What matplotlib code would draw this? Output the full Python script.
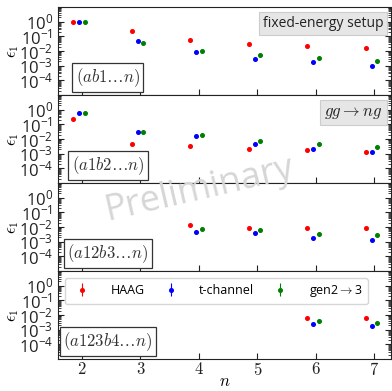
import numpy as np
import matplotlib.pyplot as plt
from matplotlib.ticker import LogLocator, NullFormatter, FixedLocator, FuncFormatter

plt.rcParams['mathtext.fontset'] = 'cm'
plt.rcParams['font.family'] = ['Open Sans', 'DejaVu Sans']

nan = np.nan
n_vals = [2, 3, 4, 5, 6, 7]
panel_labels = [r'$(ab1\ldots n)$', r'$(a1b2\ldots n)$', r'$(a12b3\ldots n)$', r'$(a123b4\ldots n)$']

# epsilon_1 per panel
haag = [
    [0.95, 0.25, 0.056, 0.032, 0.022, 0.017],
    [0.23, 0.0046, 0.0036, 0.0022, 0.0017, 0.0014],
    [nan, nan, 0.0137, 0.0089, 0.0089, 0.0087],
    [nan, nan, nan, nan, 0.0060, 0.0060],
]
tchannel = [
    [0.95, 0.046, 0.0085, 0.0030, 0.0018, 0.0010],
    [0.59, 0.032, 0.016, 0.0048, 0.0022, 0.0013],
    [nan, nan, 0.0048, 0.0040, 0.0019, 0.0013],
    [nan, nan, nan, nan, 0.0026, 0.0017],
]
gen23 = [
    [0.95, 0.035, 0.010, 0.0054, 0.0035, 0.0021],
    [0.59, 0.031, 0.020, 0.0078, 0.0046, 0.0030],
    [nan, nan, 0.0072, 0.0059, 0.0035, 0.0027],
    [nan, nan, nan, nan, 0.0041, 0.0028],
]
rel_err = 0.08

series = [('HAAG', haag, 'red', -0.15),
          ('t-channel', tchannel, 'blue', -0.05),
          (r'gen2$\rightarrow$3', gen23, 'green', 0.05)]

fig, axes = plt.subplots(4, 1, figsize=(3.92, 3.91), dpi=100, sharex=True)
fig.subplots_adjust(left=0.148, right=0.997, top=0.982, bottom=0.082, hspace=0)

x = np.array(n_vals, dtype=float)
for i, ax in enumerate(axes):
    for name, data, color, off in series:
        y = np.array(data[i])
        ax.errorbar(x + off, y, yerr=rel_err * y, fmt='o', color=color,
                    ms=2.6, elinewidth=0.8, capsize=0, label=name)
    ax.set_yscale('log')
    ax.set_ylim(1e-5, 1e1)
    ax.yaxis.set_major_locator(FixedLocator([1e-4, 1e-3, 1e-2, 1e-1, 1e0]))
    ax.yaxis.set_minor_locator(LogLocator(base=10, subs=np.arange(2, 10), numticks=20))
    ax.yaxis.set_minor_formatter(NullFormatter())
    ax.tick_params(which='both', direction='in', right=True, labelsize=12, colors='#222222')
    ax.tick_params(which='major', length=4)
    ax.tick_params(which='minor', length=2)
    ax.set_ylabel(r'$\epsilon_1$', fontsize=12)
    ax.yaxis.set_label_coords(-0.11, 0.5)
    for s in ax.spines.values():
        s.set_color('#222222')
    ax.text(0.15, 0.2, panel_labels[i], transform=ax.transAxes, ha='center', va='center',
            fontsize=12, color='#333333',
            bbox=dict(boxstyle='square,pad=0.2', fc='white', ec='#333333', lw=0.9))

axes[0].text(0.977, 0.81, 'fixed-energy setup', transform=axes[0].transAxes, ha='right', va='center',
             fontsize=10, color='#222222',
             bbox=dict(boxstyle='square,pad=0.28', fc='#e6e6e6', ec='#cccccc', lw=0.8))
axes[1].text(0.975, 0.8, r'$gg \rightarrow ng$', transform=axes[1].transAxes, ha='right', va='center',
             fontsize=12, color='#222222',
             bbox=dict(boxstyle='square,pad=0.25', fc='#e6e6e6', ec='#cccccc', lw=0.8))

axes[3].legend(loc='upper center', bbox_to_anchor=(0.02, 0.66, 0.91, 0.26), mode='expand',
               ncol=3, fontsize=9, frameon=True, edgecolor='#cccccc', borderaxespad=0,
               handletextpad=1.3)

axes[3].set_xlim(1.59, 7.28)
axes[3].set_xticks(n_vals)
axes[3].xaxis.set_major_formatter(FuncFormatter(lambda v, p: r'$%d$' % v))
axes[3].tick_params(axis='x', pad=2)
axes[3].set_xlabel(r'$n$', fontsize=12)
axes[3].xaxis.set_label_coords(0.5, -0.17)

fig.text(0.508, 0.514, 'Preliminary', fontsize=26, color='#d6d6d6', rotation=13,
         ha='center', va='center', zorder=10)

fig.savefig('out.png', dpi=100)
